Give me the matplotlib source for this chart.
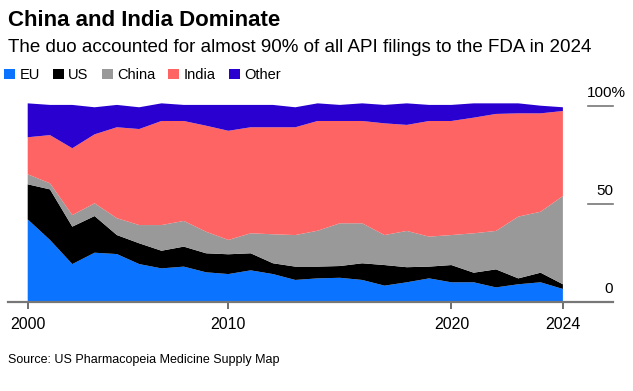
import matplotlib
matplotlib.use("Agg")
import matplotlib.pyplot as plt
from matplotlib.patches import Patch
import numpy as np

plt.rcParams['font.family'] = ['Liberation Sans', 'DejaVu Sans']

# Data (share of API filings, %), 25 annual points
series_names = ["EU", "US", "China", "India", "Other"]
colors = ["#0a73ff", "#000000", "#999999", "#ff6464", "#2a00d0"]

eu = [42.0, 31.5, 19.2, 25.0, 24.3, 19.2, 17.0, 17.9, 15.0, 14.1, 16.0, 14.1, 11.1,
      11.9, 12.2, 11.1, 8.2, 9.9, 11.9, 9.9, 9.9, 7.3, 8.9, 9.9, 6.5]
us = [17.9, 25.8, 19.1, 18.7, 9.7, 10.6, 9.0, 10.2, 9.7, 10.1, 8.7, 5.5, 6.8,
      6.0, 6.0, 8.5, 10.5, 7.7, 6.0, 8.8, 4.9, 9.2, 3.0, 4.9, 2.4]
china = [5.1, 3.1, 5.9, 6.5, 8.6, 9.3, 13.1, 13.1, 11.0, 7.3, 10.2, 14.8, 16.1,
         18.3, 21.8, 20.4, 15.3, 18.5, 15.3, 15.3, 20.1, 19.6, 31.5, 31.1, 45.0]
india = [18.9, 24.6, 34.1, 35.2, 46.4, 49.0, 53.1, 51.0, 54.1, 55.7, 54.1, 54.6, 55.0,
         56.0, 52.2, 52.2, 57.0, 54.1, 59.0, 58.2, 59.0, 59.7, 52.7, 50.2, 43.4]
other = [17.3, 15.4, 22.1, 13.8, 11.4, 11.1, 9.0, 8.2, 10.6, 13.2, 11.4, 11.4, 10.2,
         9.0, 8.2, 9.0, 9.4, 11.0, 8.2, 8.2, 7.3, 5.4, 5.1, 3.9, 1.9]

tick_index = [0, 9, 19, 24]
tick_labels = ["2000", "2010", "2020", "2024"]
y_ticks = [0, 50, 100]
y_tick_labels = ["0", "50", "100%"]

W, H = 633, 391
fig = plt.figure(figsize=(W / 100, H / 100), dpi=100)

# axes geometry in pixels
ax_left_px, ax_right_px = 8, 613
ax_top_px, ax_bottom_px = 95, 301.7
ax = fig.add_axes([ax_left_px / W, (H - ax_bottom_px) / H,
                   (ax_right_px - ax_left_px) / W, (ax_bottom_px - ax_top_px) / H])

x = np.arange(len(eu))
ax.stackplot(x, eu, us, china, india, other, colors=colors, linewidth=0)

px_per_idx = 22.3
x0_px = 27.7
ax.set_xlim(-(x0_px - ax_left_px) / px_per_idx, (ax_right_px - x0_px) / px_per_idx)
px_per_unit = 1.96
ax.set_ylim(0, (ax_bottom_px - ax_top_px) / px_per_unit)

for s in ax.spines.values():
    s.set_visible(False)
ax.axhline(0, color="#777777", lw=1.6, zorder=5, clip_on=False)

ax.set_xticks(tick_index)
ax.set_xticklabels(tick_labels, fontsize=11.5)
ax.tick_params(axis="x", length=5, width=1.2, color="#555555", pad=6)
ax.set_yticks([])

# right-side y labels with short grid segments
xmax = ax.get_xlim()[1]
seg_len = 25 / px_per_idx
for v, lab in zip(y_ticks, y_tick_labels):
    if v > 0:
        ax.plot([xmax - seg_len, xmax], [v, v], color="#777777", lw=1.2, clip_on=False)
    dx = 9 if lab.endswith("%") else 0
    ax.annotate(lab, xy=(xmax, v), xytext=(dx, 4), textcoords="offset points",
                ha="right", va="bottom", fontsize=11)

fig.text(8 / W, 1 - 20 / H, "China and India Dominate", fontsize=16, fontweight="bold",
         va="center", ha="left")
fig.text(8 / W, 1 - 48 / H, "The duo accounted for almost 90% of all API filings to the FDA in 2024",
         fontsize=13.5, va="center", ha="left")

handles = [Patch(facecolor=c, edgecolor="none") for c in colors]
fig.legend(handles, series_names, loc="center left", bbox_to_anchor=(4 / W, 1 - 75 / H),
           ncol=5, frameon=False, fontsize=10.5, handlelength=0.75, handleheight=0.75,
           handletextpad=0.3, columnspacing=0.9, borderpad=0, borderaxespad=0)

fig.text(8 / W, 1 - 360 / H, "Source: US Pharmacopeia Medicine Supply Map", fontsize=9,
         va="center", ha="left")

fig.savefig("out.png", dpi=100)
